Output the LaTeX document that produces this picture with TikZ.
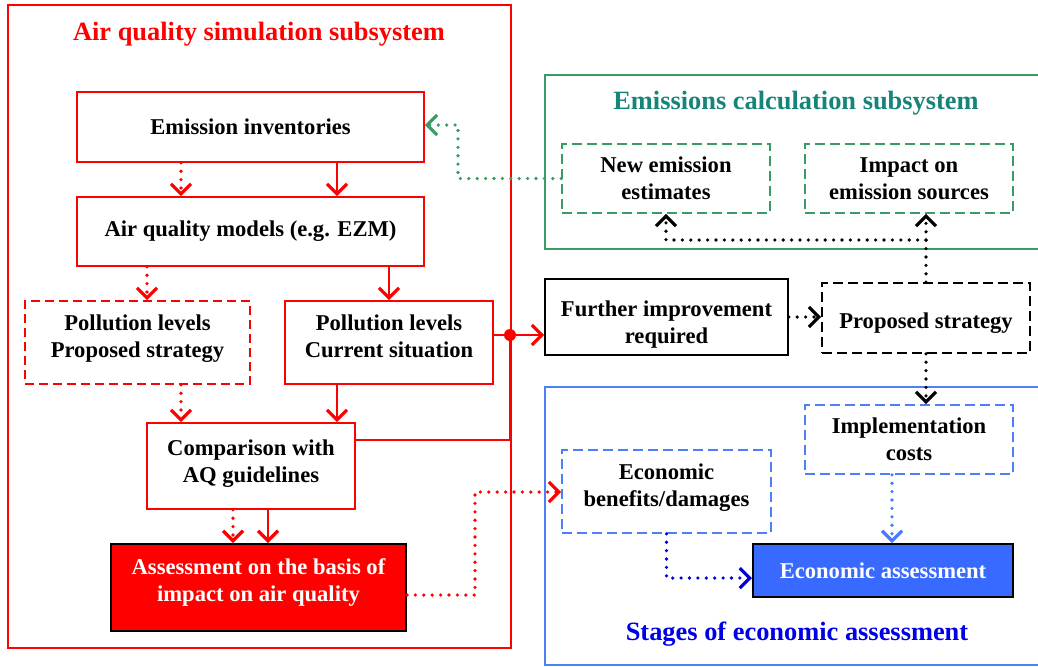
\documentclass[tikz,border=0pt]{standalone}
\usepackage{fontspec}
\setmainfont{Liberation Serif}
\usetikzlibrary{arrows.meta}

\definecolor{aqgreen}{RGB}{58,156,100}
\definecolor{aqteal}{RGB}{22,132,120}
\definecolor{aqblue}{RGB}{78,128,245}
\definecolor{econfill}{RGB}{56,106,255}
\definecolor{stageblue}{RGB}{0,0,230}
\definecolor{darkdots}{RGB}{0,0,215}
\definecolor{lightdots}{RGB}{72,122,255}

\tikzset{
  boxtext/.style={align=center, font=\fontsize{11.3}{13.5}\selectfont\bfseries, inner sep=2pt},
  redbox/.style={boxtext, draw=red, line width=0.8pt},
  reddash/.style={boxtext, draw=red, line width=0.8pt, dash pattern=on 4.5pt off 2.5pt},
  greendash/.style={boxtext, draw=aqgreen, line width=0.8pt, dash pattern=on 5pt off 2.5pt},
  bluedash/.style={boxtext, draw=aqblue, line width=0.8pt, dash pattern=on 5pt off 2.5pt},
  blackbox/.style={boxtext, draw=black, line width=0.8pt},
  blackdash/.style={boxtext, draw=black, line width=0.8pt, dash pattern=on 5pt off 2.5pt},
  filledbox/.style={boxtext, draw=black, line width=1pt, text=white},
  frametitle/.style={font=\fontsize{13.2}{16}\selectfont\bfseries},
  arr/.style={-{Straight Barb[length=5pt,width=10pt,line width=1.6pt]}},
  solidline/.style={line width=1.1pt},
  dotline/.style={line width=1.8pt, dash pattern=on 0pt off 4.2pt, line cap=round},
}
% podniesienie / obnizenie tekstu w ramce
\newcommand{\lowtext}[1]{\rule{0pt}{#1}}
\newcommand{\hightext}[1]{\rule[-#1]{0pt}{0pt}}

\begin{document}
\begin{tikzpicture}[x=0.5pt,y=-0.5pt]
\useasboundingbox (0,0) rectangle (1038,666);

% Ramki podsystemow
\draw[red, line width=1pt] (8,5) rectangle (511,648);
\draw[aqgreen, line width=1pt] (545,75) rectangle (1046,249);
\draw[aqblue, line width=1pt] (545,387) rectangle (1046,665);

\node[frametitle, text=red] (aqtitle) at (259,34) {Air quality simulation subsystem};
\node[frametitle, text=aqteal] (emtitle) at (796,103) {Emissions calculation subsystem};
\node[frametitle, text=stageblue] (ectitle) at (797,634) {Stages of economic assessment};

% Podsystem jakosci powietrza
\node[redbox, minimum width=173.5pt, minimum height=35pt] (inv) at (250.5,127) {Emission inventories};
\node[redbox, minimum width=173.5pt, minimum height=34.5pt] (aqm) at (250.5,231.5) {Air quality models (e.g. EZM)};
\node[reddash, minimum width=112.5pt, minimum height=41.5pt] (polprop) at (137.5,342.5) {Pollution levels\\Proposed strategy\hightext{6pt}};
\node[redbox, minimum width=104pt, minimum height=41.5pt] (polcur) at (389,342.5) {Pollution levels\\Current situation\hightext{6pt}};
\node[redbox, minimum width=104pt, minimum height=43pt] (comp) at (251,466) {Comparison with\\AQ guidelines\hightext{5pt}};
\node[filledbox, fill=red, minimum width=147.5pt, minimum height=43.5pt] (assess) at (258.5,587.5) {Assessment on the basis of\\impact on air quality\hightext{7pt}};

% Podsystem emisji
\node[greendash, minimum width=104pt, minimum height=34.5pt] (newest) at (666,178.5) {New emission\\estimates};
\node[greendash, minimum width=104pt, minimum height=34.5pt] (impact) at (909,178.5) {Impact on\\emission sources};

% Strategia
\node[blackbox, minimum width=121.5pt, minimum height=38pt] (further) at (666.5,317) {\lowtext{15pt}Further improvement\\required};
\node[blackdash, minimum width=104pt, minimum height=35pt] (propstrat) at (926,318) {\lowtext{12.5pt}Proposed strategy};

% Ocena ekonomiczna
\node[bluedash, minimum width=104pt, minimum height=34.5pt] (impl) at (909,439.5) {Implementation\\costs};
\node[bluedash, minimum width=104.5pt, minimum height=41.5pt] (benef) at (666.5,491.5) {Economic\\benefits/damages\hightext{6pt}};
\node[filledbox, fill=econfill, minimum width=130pt, minimum height=26.5pt] (econ) at (883,570.5) {Economic assessment};

% Polaczenia w podsystemie jakosci powietrza
\draw[red, dotline, arr] (inv.south -| 181,0) -- (aqm.north -| 181,0);
\draw[red, solidline, arr] (inv.south -| 337,0) -- (aqm.north -| 337,0);
\draw[red, dotline, arr] (aqm.south -| 147,0) -- (polprop.north -| 147,0);
\draw[red, solidline, arr] (aqm.south -| 389,0) -- (polcur.north -| 389,0);
\draw[red, dotline, arr] (polprop.south -| 181,0) -- (comp.north -| 181,0);
\draw[red, solidline, arr] (polcur.south -| 337,0) -- (comp.north -| 337,0);
\draw[red, dotline, arr] (comp.south -| 233,0) -- (assess.north -| 233,0);
\draw[red, solidline, arr] (comp.south -| 268,0) -- (assess.north -| 268,0);

% Dalsza poprawa
\coordinate (jct) at (510,335);
\draw[red, solidline] (comp.east |- 0,440) -| (jct);
\draw[red, solidline, arr] (polcur.east |- jct) -- (jct) -- (further.west |- jct);
\fill[red] (jct) circle (3pt);
\draw[dotline, arr] (further.east) -- (propstrat.west |- further.east);

% Strategia -> emisje i koszty
\draw[dotline, arr] (propstrat.north) -- (propstrat.north |- impact.south);
\draw[dotline, arr] (propstrat.north |- 0,240) -| (newest.south);
\draw[dotline, arr] (propstrat.south) -- (propstrat.south |- impl.north);

% Nowe emisje -> inwentaryzacja
\draw[aqgreen, dotline, arr] (newest.west) -| (458,125) -- (inv.east |- 0,125);

% Ocena -> korzysci
\draw[red, dotline, arr] (assess.east |- 0,595) -| (475,492) -- (benef.west |- 0,492);

% Ocena ekonomiczna
\draw[lightdots, dotline, arr] (impl.south -| 892,0) -- (econ.north -| 892,0);
\draw[darkdots, dotline, arr] (benef.south) |- (econ.west |- 0,578);
\end{tikzpicture}
\end{document}
